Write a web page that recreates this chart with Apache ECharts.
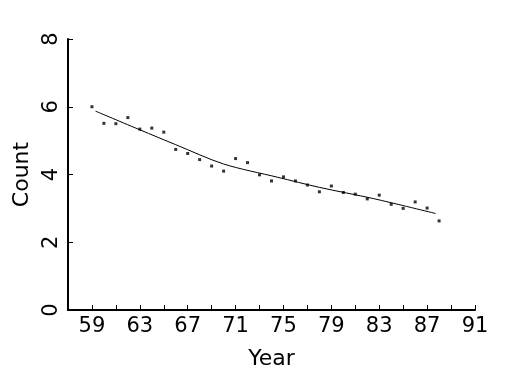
<!DOCTYPE html>
<html><head><meta charset="utf-8">
<script src="https://cdn.jsdelivr.net/npm/echarts@6/dist/echarts.min.js"></script>
<style>html,body{margin:0;padding:0;background:#fff}#c{width:525px;height:375px}</style>
</head><body><div id="c"></div>
<script>
var years = [59,60,61,62,63,64,65,66,67,68,69,70,71,72,73,74,75,76,77,78,79,80,81,82,83,84,85,86,87,88];
var counts = [6.00,5.51,5.50,5.68,5.34,5.37,5.25,4.74,4.62,4.44,4.25,4.10,4.47,4.35,3.99,3.81,3.93,3.81,3.69,3.49,3.66,3.47,3.42,3.28,3.39,3.12,3.00,3.19,3.01,2.63];
var fitYears = [59.3,63,66,70,74.5,78,82.5,87.7];
var fitValues = [5.87,5.32,4.88,4.31,3.92,3.62,3.29,2.85];
var xTickLabels = [59,63,67,71,75,79,83,87,91];

var chart = echarts.init(document.getElementById('c'), null, {renderer:'canvas'});
var font = 'DejaVu Sans';
chart.setOption({
  animation:false,
  backgroundColor:'#fff',
  grid:{left:68,right:50,top:39,bottom:65,containLabel:false,outerBoundsMode:'none'},
  xAxis:{type:'value',min:57,max:91,interval:2,
    name:'Year',nameLocation:'middle',nameGap:38,
    nameTextStyle:{color:'#000',fontFamily:font,fontSize:22},
    axisLine:{show:true,onZero:false,lineStyle:{color:'#000',width:2}},
    axisTick:{show:true,inside:true,length:5,lineStyle:{color:'#000',width:1}},
    splitLine:{show:false},
    axisLabel:{color:'#000',fontFamily:font,fontSize:21,margin:6,
      formatter:function(v){return xTickLabels.indexOf(v)>=0?String(v):'';}}
  },
  yAxis:{type:'value',min:0,max:8,interval:2,
    name:'Count',nameLocation:'middle',nameGap:32,
    nameTextStyle:{color:'#000',fontFamily:font,fontSize:22},
    axisLine:{show:true,onZero:false,lineStyle:{color:'#000',width:2}},
    axisTick:{show:true,inside:true,length:5,lineStyle:{color:'#000',width:1}},
    splitLine:{show:false},
    axisLabel:{color:'#000',fontFamily:font,fontSize:21,margin:6,rotate:90}
  },
  series:[
    {type:'scatter',data:years.map(function(y,i){return [y,counts[i]];}),
     symbol:'rect',symbolSize:3,itemStyle:{color:'#000'}},
    {type:'line',data:fitYears.map(function(y,i){return [y,fitValues[i]];}),
     showSymbol:false,smooth:0.3,lineStyle:{color:'#000',width:1}}
  ]
});
</script></body></html>
